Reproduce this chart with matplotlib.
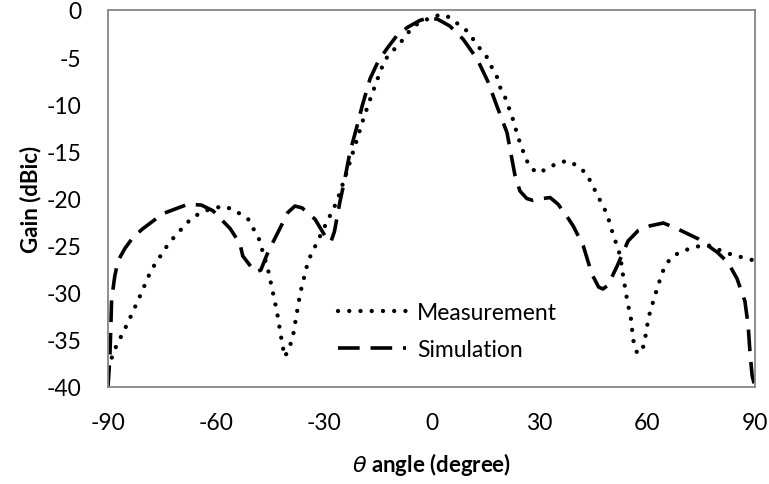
import matplotlib
matplotlib.use("Agg")
import matplotlib.pyplot as plt

# Measured gain pattern (angle in degree, gain in dBic)
meas_angle = [-90, -88, -84.5, -81.5, -78, -73, -69, -66.5, -63, -58, -55, -51, -48,
              -45.5, -43, -41.5, -40.8, -39.5, -38.5, -36.5, -34.3, -30.5, -26.3,
              -23.5, -20.7, -19, -17, -15, -13, -10.2, -8.3, -6.5, -4, -1.3, 1.5,
              3.5, 5.5, 7.4, 9.8, 11.6, 13.5, 15.4, 16.8, 18.2, 19.1, 20.5, 22.5,
              24, 25.2, 26.3, 27.4, 29.6, 32.4, 35.2, 38, 40.8, 43.2, 44.6, 46, 47.4,
              48.8, 50.5, 51.6, 52.5, 53.3, 54.4, 55.5, 56.1, 57.2, 58.6, 59.4, 60.4,
              62, 63.9, 65, 66.9, 69.1, 72, 75, 77.5, 80.3, 83.1, 86, 90]
meas_gain = [-38, -35.9, -33.2, -30.7, -27.6, -24.7, -23, -22, -21.3, -20.8, -21.2,
             -22.2, -24.3, -27.5, -32, -35.5, -36.8, -35.8, -34.5, -30, -26.6, -23.6,
             -20.3, -17.1, -13.7, -11.6, -9.4, -7.3, -5.3, -4.1, -3.3, -2.4, -1.5,
             -1.0, -0.6, -0.5, -0.9, -1.5, -2.2, -3.1, -4.1, -5, -6.1, -7.1, -8.2,
             -9.3, -11.4, -13.4, -14.7, -15.8, -16.7, -17.3, -16.8, -16.2, -16.0,
             -16.6, -17.4, -18.5, -19.5, -20.6, -21.6, -23.8, -25, -26.1, -28.2,
             -30.7, -32.8, -35, -36.4, -36.2, -34.9, -32.6, -30.5, -28.2, -27.1,
             -26.2, -25.7, -25.3, -25.0, -25.0, -25.5, -25.9, -26.2, -26.6]

# Simulated gain pattern
sim_angle = [-90, -89.5, -89.2, -89, -88.1, -87.2, -85.3, -83, -80.3, -74.7, -67.7,
             -64, -60.8, -56, -53.3, -52.5, -49.1, -47.5, -45.5, -42.2, -40, -38,
             -36, -32.4, -29.1, -28, -27, -25.5, -24.1, -22.7, -20.7, -19.3, -17.1,
             -14.9, -12.4, -9.6, -6.5, -3.2, -0.5, 1.8, 5.1, 8.8, 12.7, 15.7, 18.2,
             21, 23.2, 24.6, 26.5, 28.2, 31, 33, 35.2, 37.5, 39.4, 42.2, 44.6, 46.5,
             47.7, 49.1, 51.6, 54.7, 57.5, 60.8, 64.5, 68.3, 74.3, 79.5, 82.5, 85,
             87.2, 88.1, 88.6, 89.2, 90]
sim_gain = [-40, -37, -33.5, -30.7, -28.2, -26.6, -25.3, -24.1, -23.2, -21.6, -20.6,
            -20.7, -21.3, -23.2, -24.8, -26.1, -27.8, -27.6, -25.7, -23.2, -21.5,
            -20.8, -21, -22.2, -24.3, -24.6, -23.5, -20.4, -17.9, -15.1, -12.3,
            -10.2, -7.3, -5.5, -4.1, -2.7, -1.8, -1.1, -0.8, -1.0, -1.7, -3.1, -5.2,
            -7.6, -10.2, -13, -17.5, -19.2, -20.0, -20.2, -20.0, -19.9, -20.6,
            -21.8, -22.9, -25, -28, -29.4, -29.6, -29.2, -27.2, -24.5, -23.4, -22.9,
            -22.6, -23.2, -24.3, -25.7, -26.8, -28.5, -30.9, -33.5, -36.3, -38.8, -40]

x_ticks = [-90, -60, -30, 0, 30, 60, 90]
y_ticks = [0, -5, -10, -15, -20, -25, -30, -35, -40]

plt.rcParams['font.family'] = ['Lato', 'DejaVu Sans']
plt.rcParams['axes.unicode_minus'] = False

fig = plt.figure(figsize=(7.69, 4.85), dpi=100)
ax = fig.add_axes([108 / 769, 1 - 388 / 485, 647 / 769, 377 / 485])

ax.plot(meas_angle, meas_gain, color='black', lw=3.1, linestyle=(0, (0.01, 2.6)),
        dash_capstyle='round', label='Measurement')
ax.plot(sim_angle, sim_gain, color='black', lw=2.6, linestyle=(0, (6.0, 3.0)),
        dash_capstyle='butt', label='Simulation')

ax.set_xlim(-90, 90)
ax.set_ylim(-40, 0)
ax.set_xticks(x_ticks)
ax.set_yticks(y_ticks)
ax.tick_params(length=0, labelsize=16.5, pad=19)
ax.tick_params(axis='x', pad=18)
for s in ax.spines.values():
    s.set_color('#868686')
    s.set_linewidth(1.3)

ax.set_xlabel(r'$\theta$ angle (degree)', fontsize=16, fontweight='bold', labelpad=12)
ax.set_ylabel('Gain (dBic)', fontsize=16, fontweight='bold', labelpad=4)

ax.legend(loc='center left', bbox_to_anchor=(0.355, 0.149), frameon=False,
          fontsize=16.5, handlelength=3.0, handletextpad=0.45, labelspacing=0.68,
          borderpad=0, borderaxespad=0)

fig.savefig('out.png', dpi=100)
